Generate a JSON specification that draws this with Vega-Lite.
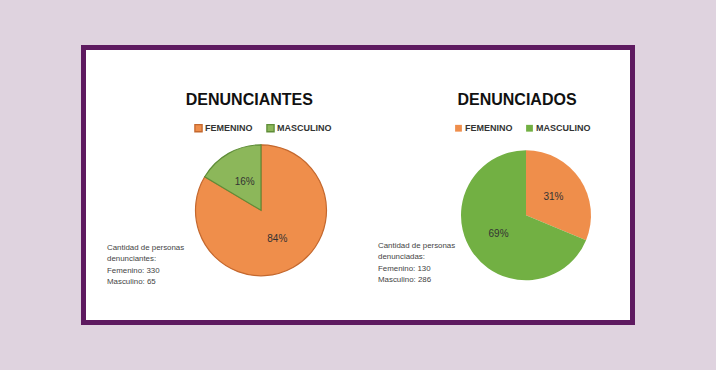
{
  "$schema": "https://vega.github.io/schema/vega-lite/v6.json",
  "width": 549,
  "height": 275,
  "autosize": {"type": "none"},
  "padding": {"left": 83.5, "top": 47.5, "right": 83.5, "bottom": 47.5},
  "background": "#dfd3df",
  "config": {
    "view": {"fill": "#ffffff", "stroke": "#5e1a60", "strokeWidth": 5},
    "font": "Liberation Sans"
  },
  "datasets": {
    "pies": [
      {"grafico": "DENUNCIANTES", "sexo": "FEMENINO", "cantidad": 330, "etiqueta": "84%"},
      {"grafico": "DENUNCIANTES", "sexo": "MASCULINO", "cantidad": 65, "etiqueta": "16%"},
      {"grafico": "DENUNCIADOS", "sexo": "FEMENINO", "cantidad": 130, "etiqueta": "31%"},
      {"grafico": "DENUNCIADOS", "sexo": "MASCULINO", "cantidad": 286, "etiqueta": "69%"}
    ],
    "notas": [
      {"grafico": "DENUNCIANTES", "nota": "Cantidad de personas\ndenunciantes:\nFemenino: 330\nMasculino: 65"},
      {"grafico": "DENUNCIADOS", "nota": "Cantidad de personas\ndenunciadas:\nFemenino: 130\nMasculino: 286"}
    ]
  },
  "resolve": {"scale": {"x": "independent", "y": "independent", "color": "independent", "stroke": "independent", "theta": "independent"}},
  "layer": [
    {
      "data": {"name": "pies"},
      "transform": [{"filter": "datum.grafico === 'DENUNCIANTES'"}],
      "encoding": {
        "x": {"field": "grafico", "type": "nominal", "axis": null,
              "scale": {"type": "point", "padding": 0, "domain": ["DENUNCIANTES", "DENUNCIADOS"], "range": [177.5, 442.5]}},
        "y": {"field": "grafico", "type": "nominal", "axis": null,
              "scale": {"type": "point", "padding": 0, "domain": ["DENUNCIANTES", "DENUNCIADOS"], "range": [162.8, 167.8]}},
        "theta": {"field": "cantidad", "type": "quantitative", "stack": "normalize"},
        "order": {"field": "sexo", "type": "ordinal", "sort": "ascending"}
      },
      "layer": [
        {
          "mark": {"type": "arc", "outerRadius": 65.5, "strokeWidth": 1.2},
          "encoding": {
            "color": {"field": "sexo", "type": "nominal",
                      "scale": {"domain": ["FEMENINO", "MASCULINO"], "range": ["#ef8e4b", "#8cb75a"]},
                      "legend": {"orient": "none", "legendX": 110.5, "legendY": 76, "direction": "horizontal", "title": null,
                                 "symbolType": "square", "symbolSize": 52, "symbolStrokeWidth": 1.3, "labelOffset": 2, "columnPadding": 11,
                                 "labelFont": "Liberation Sans", "labelFontWeight": "bold", "labelFontSize": 9, "labelColor": "#333333"}},
            "stroke": {"field": "sexo", "type": "nominal",
                       "scale": {"domain": ["FEMENINO", "MASCULINO"], "range": ["#c4682e", "#5f8d38"]},
                       "legend": {"orient": "none", "legendX": 110.5, "legendY": 76, "direction": "horizontal", "title": null,
                                  "symbolType": "square", "symbolSize": 52, "symbolStrokeWidth": 1.3, "labelOffset": 2, "columnPadding": 11,
                                  "labelFont": "Liberation Sans", "labelFontWeight": "bold", "labelFontSize": 9, "labelColor": "#333333"}}
          }
        },
        {
          "mark": {"type": "text", "radius": 33, "fontSize": 10, "color": "#333333", "font": "Liberation Sans"},
          "encoding": {"text": {"field": "etiqueta"}, "detail": {"field": "sexo"}}
        }
      ]
    },
    {
      "data": {"name": "pies"},
      "transform": [{"filter": "datum.grafico === 'DENUNCIADOS'"}],
      "encoding": {
        "x": {"field": "grafico", "type": "nominal", "axis": null,
              "scale": {"type": "point", "padding": 0, "domain": ["DENUNCIANTES", "DENUNCIADOS"], "range": [177.5, 442.5]}},
        "y": {"field": "grafico", "type": "nominal", "axis": null,
              "scale": {"type": "point", "padding": 0, "domain": ["DENUNCIANTES", "DENUNCIADOS"], "range": [162.8, 167.8]}},
        "theta": {"field": "cantidad", "type": "quantitative", "stack": "normalize"},
        "order": {"field": "sexo", "type": "ordinal", "sort": "ascending"}
      },
      "layer": [
        {
          "mark": {"type": "arc", "outerRadius": 65},
          "encoding": {
            "color": {"field": "sexo", "type": "nominal",
                      "scale": {"domain": ["FEMENINO", "MASCULINO"], "range": ["#ef8e4b", "#72b043"]},
                      "legend": {"orient": "none", "legendX": 370.5, "legendY": 76, "direction": "horizontal", "title": null,
                                 "symbolType": "square", "symbolSize": 46, "symbolStrokeWidth": 0, "labelOffset": 2, "columnPadding": 12,
                                 "labelFont": "Liberation Sans", "labelFontWeight": "bold", "labelFontSize": 9, "labelColor": "#333333"}}
          }
        },
        {
          "mark": {"type": "text", "radius": 33, "fontSize": 10, "color": "#333333", "font": "Liberation Sans"},
          "encoding": {"text": {"field": "etiqueta"}, "detail": {"field": "sexo"}}
        }
      ]
    },
    {
      "data": {"name": "notas"},
      "mark": {"type": "text", "font": "Liberation Sans", "fontWeight": "bold", "fontSize": 16, "color": "#111111", "align": "center", "baseline": "middle"},
      "encoding": {
        "x": {"field": "grafico", "type": "nominal", "axis": null,
              "scale": {"type": "point", "padding": 0, "domain": ["DENUNCIANTES", "DENUNCIADOS"], "range": [165.8, 433.5]}},
        "y": {"field": "grafico", "type": "nominal", "axis": null,
              "scale": {"type": "point", "padding": 0, "domain": ["DENUNCIANTES", "DENUNCIADOS"], "range": [52.5, 52.5]}},
        "text": {"field": "grafico"}
      }
    },
    {
      "data": {"name": "notas"},
      "mark": {"type": "text", "font": "Liberation Sans", "fontSize": 7.9, "color": "#444444", "align": "left", "baseline": "middle", "lineBreak": "\n", "lineHeight": 11.4},
      "encoding": {
        "x": {"field": "grafico", "type": "nominal", "axis": null,
              "scale": {"type": "point", "padding": 0, "domain": ["DENUNCIANTES", "DENUNCIADOS"], "range": [23.5, 294.5]}},
        "y": {"field": "grafico", "type": "nominal", "axis": null,
              "scale": {"type": "point", "padding": 0, "domain": ["DENUNCIANTES", "DENUNCIADOS"], "range": [200.5, 198.5]}},
        "text": {"field": "nota"}
      }
    }
  ]
}
